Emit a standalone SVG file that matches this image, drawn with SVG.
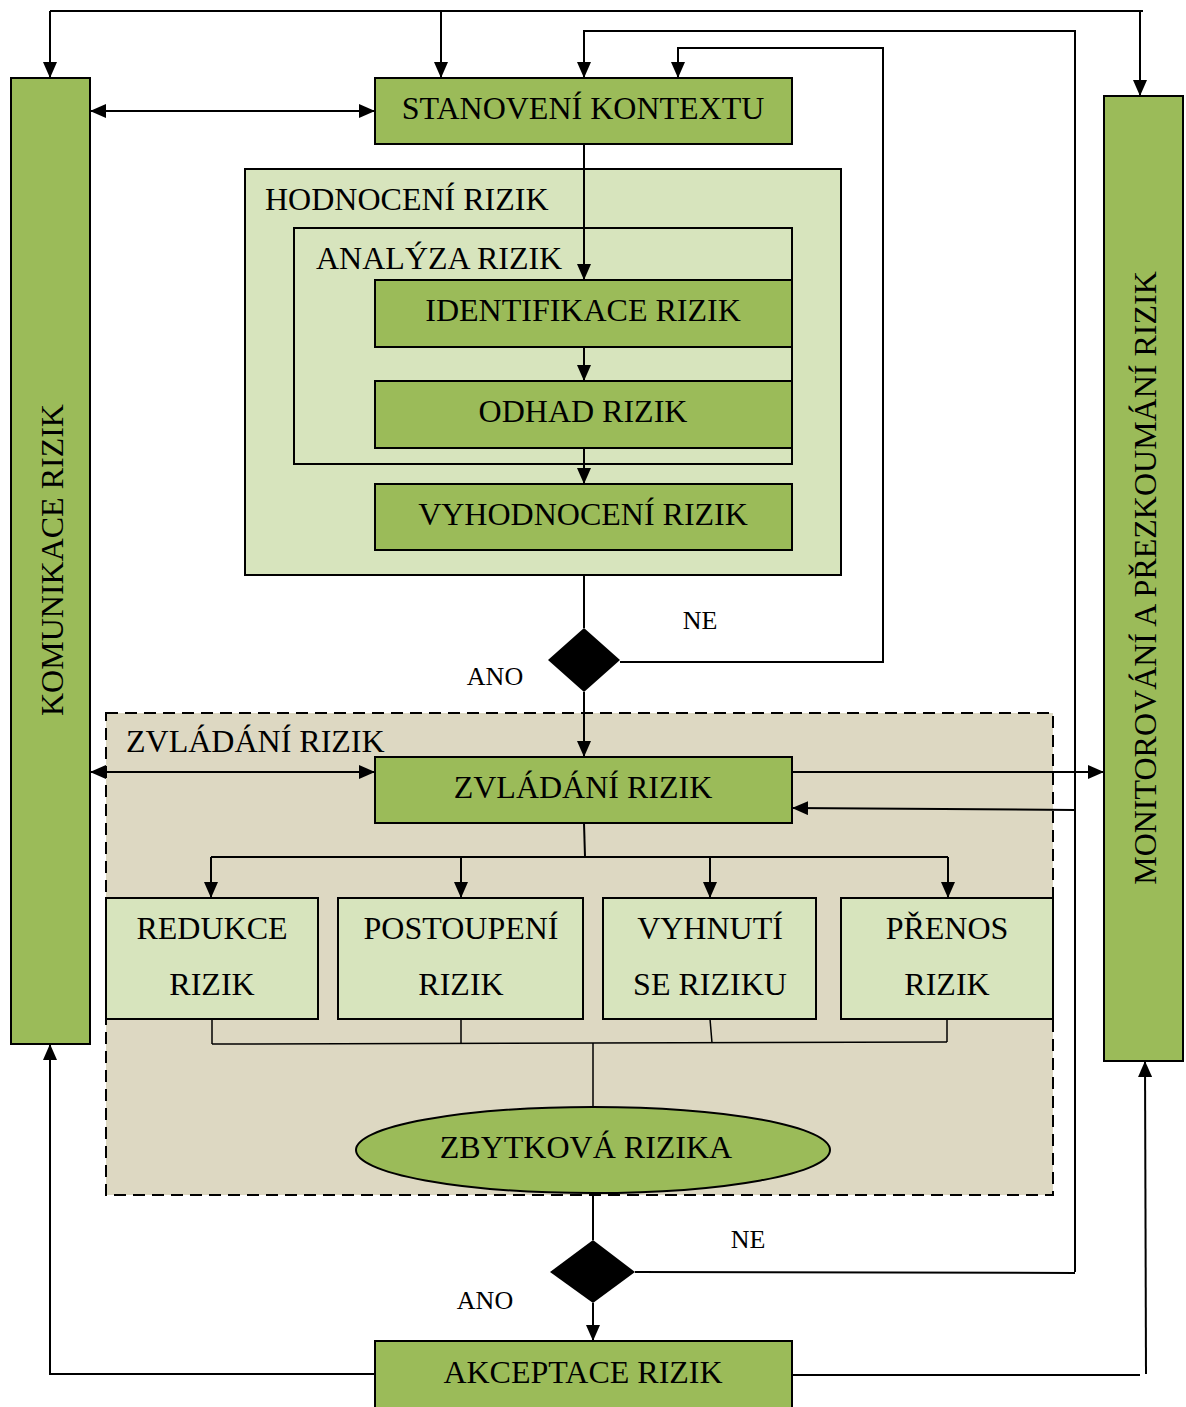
<svg xmlns="http://www.w3.org/2000/svg" width="1186" height="1407" viewBox="0 0 1186 1407">
  <defs>
    <marker id="arrL" viewBox="0 0 16 14" refX="16" refY="7" markerWidth="16" markerHeight="14" markerUnits="userSpaceOnUse" orient="auto-start-reverse">
      <path d="M0,0 L16,7 L0,14 Z" fill="#000"/>
    </marker>
  </defs>
  <style>
    .green { fill: #9bbb59; stroke: #000; stroke-width: 2; }
    .light { fill: #d7e4bd; stroke: #000; stroke-width: 2; }
    .frame { fill: none; stroke: #000; stroke-width: 2; }
    .tan { fill: #ddd8c2; stroke: #000; stroke-width: 2; stroke-dasharray: 12 7; }
    .lbl { font-family: "Liberation Serif", "Times New Roman", serif; font-size: 32px; fill: #000; text-anchor: middle; }
    .lbl-l { font-family: "Liberation Serif", "Times New Roman", serif; font-size: 32px; fill: #000; }
    .small { font-family: "Liberation Serif", "Times New Roman", serif; font-size: 26px; fill: #000; text-anchor: middle; }
    .ln { fill: none; stroke: #000; stroke-width: 2; }
    .ln1 { fill: none; stroke: #000; stroke-width: 1.5; }
  </style>

  <rect width="1186" height="1407" fill="#fff"/>

  <!-- containers -->
  <g id="hodnoceni">
    <rect class="light" x="245" y="169" width="596" height="406"/>
    <text class="lbl-l" x="265" y="210">HODNOCENÍ RIZIK</text>
  </g>
  <g id="analyza">
    <rect class="frame" x="294" y="228" width="498" height="236"/>
    <text class="lbl-l" x="316" y="269">ANALÝZA RIZIK</text>
  </g>
  <g id="zvladani-group">
    <rect class="tan" x="106" y="713" width="947" height="482"/>
    <text class="lbl-l" x="126" y="752">ZVLÁDÁNÍ RIZIK</text>
  </g>

  <!-- connectors -->
  <g id="connectors">
    <!-- top feedback bus -->
    <polyline class="ln" points="50,11 1143,11"/>
    <line class="ln" x1="50" y1="11" x2="50" y2="78" marker-end="url(#arrL)"/>
    <line class="ln" x1="441" y1="11" x2="441" y2="78" marker-end="url(#arrL)"/>
    <line class="ln" x1="1140" y1="11" x2="1140" y2="96" marker-end="url(#arrL)"/>
    <!-- second treatment loop -->
    <polyline class="ln" points="1075,1272 1075,31 584,31 584,78" marker-end="url(#arrL)"/>
    <!-- evaluation loop -->
    <polyline class="ln" points="620,662 883,662 883,48 678,48 678,78" marker-end="url(#arrL)"/>
    <!-- communication links -->
    <line class="ln" x1="90" y1="111" x2="375" y2="111" marker-start="url(#arrL)" marker-end="url(#arrL)"/>
    <line class="ln" x1="90" y1="772" x2="375" y2="772" marker-start="url(#arrL)" marker-end="url(#arrL)"/>
    <!-- main flow -->
    <line class="ln" x1="584" y1="144" x2="584" y2="280" marker-end="url(#arrL)"/>
    <line class="ln" x1="584" y1="347" x2="584" y2="381" marker-end="url(#arrL)"/>
    <line class="ln" x1="584" y1="448" x2="584" y2="484" marker-end="url(#arrL)"/>
    <line class="ln" x1="584" y1="575" x2="584" y2="628"/>
    <line class="ln" x1="584" y1="692" x2="584" y2="757" marker-end="url(#arrL)"/>
    <!-- treatment to monitoring and back -->
    <line class="ln" x1="792" y1="772" x2="1104" y2="772" marker-end="url(#arrL)"/>
    <line class="ln" x1="1075" y1="810" x2="792" y2="808" marker-end="url(#arrL)"/>
    <!-- treatment options -->
    <line class="ln" x1="584" y1="823" x2="585" y2="857"/>
    <line class="ln" x1="211" y1="857" x2="948" y2="857"/>
    <line class="ln" x1="211" y1="857" x2="211" y2="898" marker-end="url(#arrL)"/>
    <line class="ln" x1="461" y1="857" x2="461" y2="898" marker-end="url(#arrL)"/>
    <line class="ln" x1="710" y1="857" x2="710" y2="898" marker-end="url(#arrL)"/>
    <line class="ln" x1="948" y1="857" x2="948" y2="898" marker-end="url(#arrL)"/>
    <!-- merge to residual risk -->
    <line class="ln1" x1="212" y1="1019" x2="212" y2="1044"/>
    <line class="ln1" x1="461" y1="1019" x2="461" y2="1043"/>
    <line class="ln1" x1="710" y1="1019" x2="712" y2="1043"/>
    <line class="ln1" x1="947" y1="1019" x2="947" y2="1042"/>
    <line class="ln1" x1="212" y1="1044" x2="947" y2="1042"/>
    <line class="ln1" x1="593" y1="1043" x2="593" y2="1107"/>
    <line class="ln" x1="593" y1="1193" x2="593" y2="1240"/>
    <line class="ln" x1="635" y1="1272" x2="1075" y2="1273"/>
    <line class="ln" x1="593" y1="1303" x2="593" y2="1341" marker-end="url(#arrL)"/>
    <!-- acceptance outputs -->
    <polyline class="ln" points="375,1374 50,1374 50,1044" marker-end="url(#arrL)"/>
    <polyline class="ln" points="792,1375 1140,1375"/>
    <line class="ln" x1="1146" y1="1374" x2="1145" y2="1061" marker-end="url(#arrL)"/>
  </g>

  <!-- nodes -->
  <g id="komunikace">
    <rect class="green" x="11" y="78" width="79" height="966"/>
    <text class="lbl" transform="translate(63,560) rotate(-90)">KOMUNIKACE RIZIK</text>
  </g>
  <g id="monitorovani">
    <rect class="green" x="1104" y="96" width="79" height="965"/>
    <text class="lbl" transform="translate(1156,578) rotate(-90)">MONITOROVÁNÍ A PŘEZKOUMÁNÍ RIZIK</text>
  </g>
  <g id="stanoveni">
    <rect class="green" x="375" y="78" width="417" height="66"/>
    <text class="lbl" x="583" y="119">STANOVENÍ KONTEXTU</text>
  </g>
  <g id="identifikace">
    <rect class="green" x="375" y="280" width="417" height="67"/>
    <text class="lbl" x="583" y="321">IDENTIFIKACE RIZIK</text>
  </g>
  <g id="odhad">
    <rect class="green" x="375" y="381" width="417" height="67"/>
    <text class="lbl" x="583" y="422">ODHAD RIZIK</text>
  </g>
  <g id="vyhodnoceni">
    <rect class="green" x="375" y="484" width="417" height="66"/>
    <text class="lbl" x="583" y="525">VYHODNOCENÍ RIZIK</text>
  </g>
  <g id="rozhodnuti-1">
    <polygon points="584,628 620,660 584,692 548,660" fill="#000"/>
    <text class="small" x="700" y="629">NE</text>
    <text class="small" x="495" y="685">ANO</text>
  </g>
  <g id="zvladani">
    <rect class="green" x="375" y="757" width="417" height="66"/>
    <text class="lbl" x="583" y="798">ZVLÁDÁNÍ RIZIK</text>
  </g>
  <g id="redukce">
    <rect class="light" x="106" y="898" width="212" height="121"/>
    <text class="lbl" x="212" y="939">REDUKCE</text>
    <text class="lbl" x="212" y="995">RIZIK</text>
  </g>
  <g id="postoupeni">
    <rect class="light" x="338" y="898" width="245" height="121"/>
    <text class="lbl" x="461" y="939">POSTOUPENÍ</text>
    <text class="lbl" x="461" y="995">RIZIK</text>
  </g>
  <g id="vyhnuti">
    <rect class="light" x="603" y="898" width="213" height="121"/>
    <text class="lbl" x="710" y="939">VYHNUTÍ</text>
    <text class="lbl" x="710" y="995">SE RIZIKU</text>
  </g>
  <g id="prenos">
    <rect class="light" x="841" y="898" width="212" height="121"/>
    <text class="lbl" x="947" y="939">PŘENOS</text>
    <text class="lbl" x="947" y="995">RIZIK</text>
  </g>
  <g id="zbytkova">
    <ellipse class="green" cx="593" cy="1150" rx="237" ry="43"/>
    <text class="lbl" x="586" y="1158">ZBYTKOVÁ RIZIKA</text>
  </g>
  <g id="rozhodnuti-2">
    <polygon points="593,1240 635,1272 593,1303 550,1272" fill="#000"/>
    <text class="small" x="748" y="1248">NE</text>
    <text class="small" x="485" y="1309">ANO</text>
  </g>
  <g id="akceptace">
    <rect class="green" x="375" y="1341" width="417" height="70"/>
    <text class="lbl" x="583" y="1383">AKCEPTACE RIZIK</text>
  </g>
</svg>
